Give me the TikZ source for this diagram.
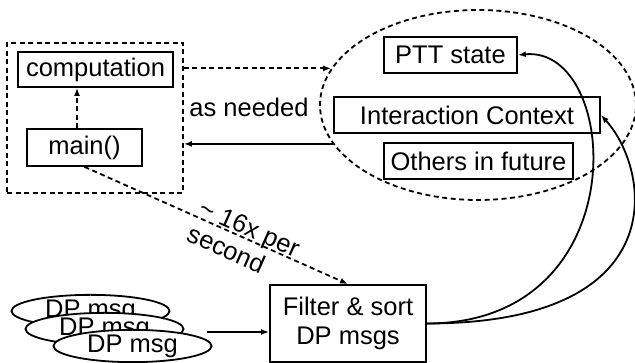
\documentclass[tikz,border=0pt]{standalone}
\usepackage{fontspec}
\setmainfont{Liberation Sans}
\usepackage{tikz}
\usetikzlibrary{arrows.meta,shapes.geometric}

\begin{document}
\begin{tikzpicture}[x=1pt, y=1pt, line width=1.8pt,
  font=\fontsize{25.5}{29}\selectfont,
  box/.style={draw, inner sep=0pt, minimum height=36pt},
  dotted line/.style={dash pattern=on 5pt off 3.5pt},
  msg/.style={draw, ellipse, fill=white, inner sep=0pt, minimum width=158pt, minimum height=32pt},
  >={Latex[length=8pt,width=6pt]}]
\useasboundingbox (0,0) rectangle (635,363);
% left side
\node[draw, dotted line, minimum width=176pt, minimum height=150pt] (outer) at (95,245) {};
\node[box, minimum width=155pt, minimum height=35pt] (comp) at (95.5,293.5) {computation};
\node[box, minimum width=115pt, minimum height=37pt] (mainf) at (84.5,215.5) {main()};
\draw[->, dotted line] ([xshift=-7.5pt]mainf.north) -- ([xshift=-7.5pt]mainf.north |- comp.south);
% state store
\node[draw, dotted line, ellipse, inner sep=0pt, minimum width=316pt, minimum height=190pt] (store) at (478,258) {};
\node[box, minimum width=133pt] (ptt) at (450.5,308) {PTT state};
\node[box, minimum width=266pt] (ictx) at (467,248) {Interaction Context};
\node[box, minimum width=189pt] (others) at (478.5,202) {Others in future};
\draw[->, dotted line] (store.166 -| outer.east) -- (store.166);
\draw[->] (store.195) -- (store.195 -| outer.east);
\node (needed) at (249,256) {as needed};
% messages
\node[box, minimum width=156pt, minimum height=77pt, align=center] (filter) at (348,39.5) {Filter \& sort\\DP msgs};
\node[msg] (dp1) at (90.5,52) {DP msg};
\node[msg] (dp2) at (104.5,34) {DP msg};
\node[msg] (dp3) at (132.5,17) {DP msg};
\coordinate (msgs) at (207,31);
\draw[->] (msgs) -- (msgs -| filter.west);
\draw[->, dotted line] (mainf.south) -- (filter.north)
  node[sloped, pos=0.61, align=left, yshift=-3pt] {\textasciitilde{} 16x per\\second};
\draw[->] (filter.east) .. controls +(212,0) and +(103,10) .. (ptt.east);
\draw[->] (filter.east) .. controls +(249,0) and +(50,-55) .. (ictx.east);
\end{tikzpicture}
\end{document}
